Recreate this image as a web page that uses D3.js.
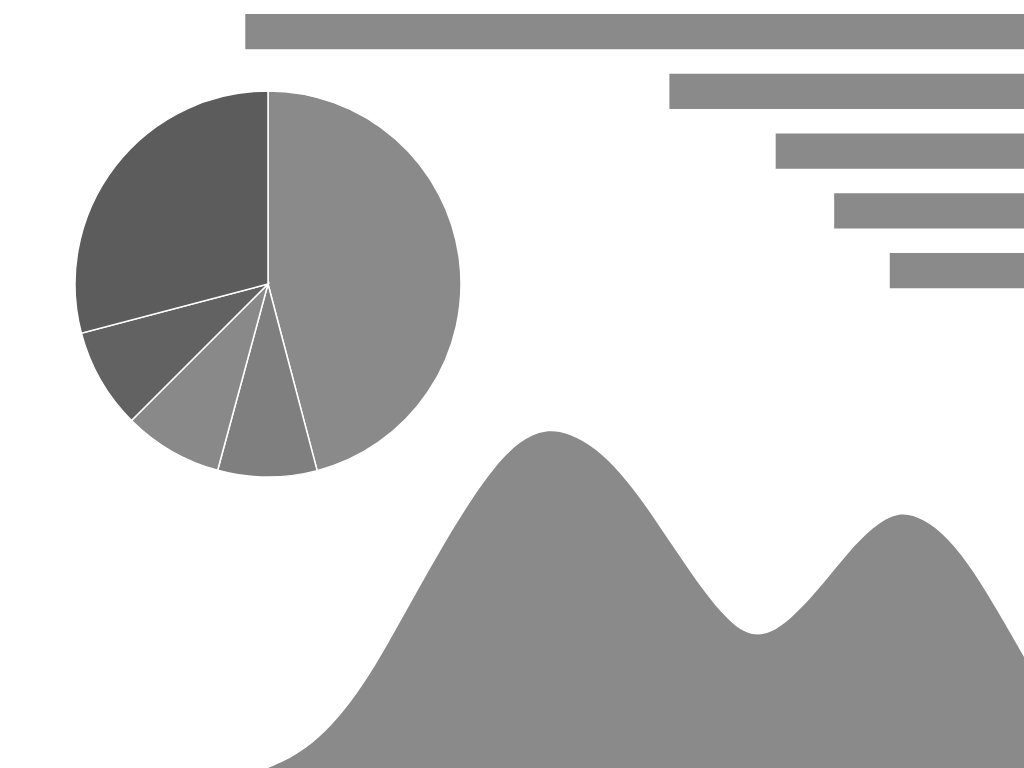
<!DOCTYPE html>
<html>
<head>
<meta charset="utf-8">
<script src="https://cdn.jsdelivr.net/npm/d3@7"></script>
<style>
  html, body { margin: 0; padding: 0; background: #ffffff; overflow: hidden; }
</style>
</head>
<body>
<div id="chart"></div>
<script>
// Pie slices, clockwise from 12 o'clock
const pieNames = ["A", "B", "C", "D", "E"];
const pieValues = [45.9, 8.3, 8.3, 8.4, 29.1];
const pieColors = ["#8a8a8a", "#7f7f7f", "#898989", "#626262", "#5c5c5c"];

// Horizontal bars, growing from the right
const barNames = ["b1", "b2", "b3", "b4", "b5"];
const barValues = [81.1, 37.6, 26.7, 20.7, 15.0];

// Area curve
const areaX = d3.range(0, 31);
const areaY = [0, 3.1, 8.3, 16.0, 26.0, 38.6, 51.6, 64.2, 76.0, 86.2, 93.6, 96.8, 95.6, 91.4, 84.3,
               74.9, 64.0, 53.4, 44.0, 37.6, 38.2, 44.3, 52.3, 61.4, 68.9, 73.4, 71.4, 65.7, 56.3, 44.3, 31.7];

const width = 1024, height = 768;

const svg = d3.select("#chart").append("svg")
    .attr("width", width)
    .attr("height", height)
    .style("display", "block");

// --- area (drawn first, sits at the bottom) ---
const x = d3.scaleLinear().domain([0, 30]).range([268, 1024]);
const y = d3.scaleLinear().domain([0, 100]).range([768, 418]);

const area = d3.area()
    .x((d, i) => x(areaX[i]))
    .y0(y(0))
    .y1(d => y(d))
    .curve(d3.curveBasis);

svg.append("path")
    .datum(areaY)
    .attr("d", area)
    .style("fill", "#8a8a8a");

// --- bars ---
const xb = d3.scaleLinear().domain([0, 80]).range([1036, 256]);
const yb = d3.scaleBand()
    .domain(barNames)
    .range([1.75, 300.5])
    .paddingInner(0.41)
    .paddingOuter(0.205);

svg.append("g")
    .selectAll("rect")
    .data(barValues)
    .enter().append("rect")
        .attr("x", d => xb(d))
        .attr("y", (d, i) => yb(barNames[i]))
        .attr("width", d => xb(0) - xb(d))
        .attr("height", yb.bandwidth())
        .style("fill", "#8a8a8a");

// --- pie ---
const radius = 193;
const pie = d3.pie().sort(null);
const arc = d3.arc().innerRadius(0).outerRadius(radius);

const pieG = svg.append("g")
    .attr("transform", "translate(268, 284)");

pieG.selectAll("path")
    .data(pie(pieValues))
    .enter().append("path")
        .attr("d", arc)
        .style("fill", (d, i) => pieColors[i])
        .style("stroke", "#ffffff")
        .style("stroke-width", "1.5");
</script>
</body>
</html>
